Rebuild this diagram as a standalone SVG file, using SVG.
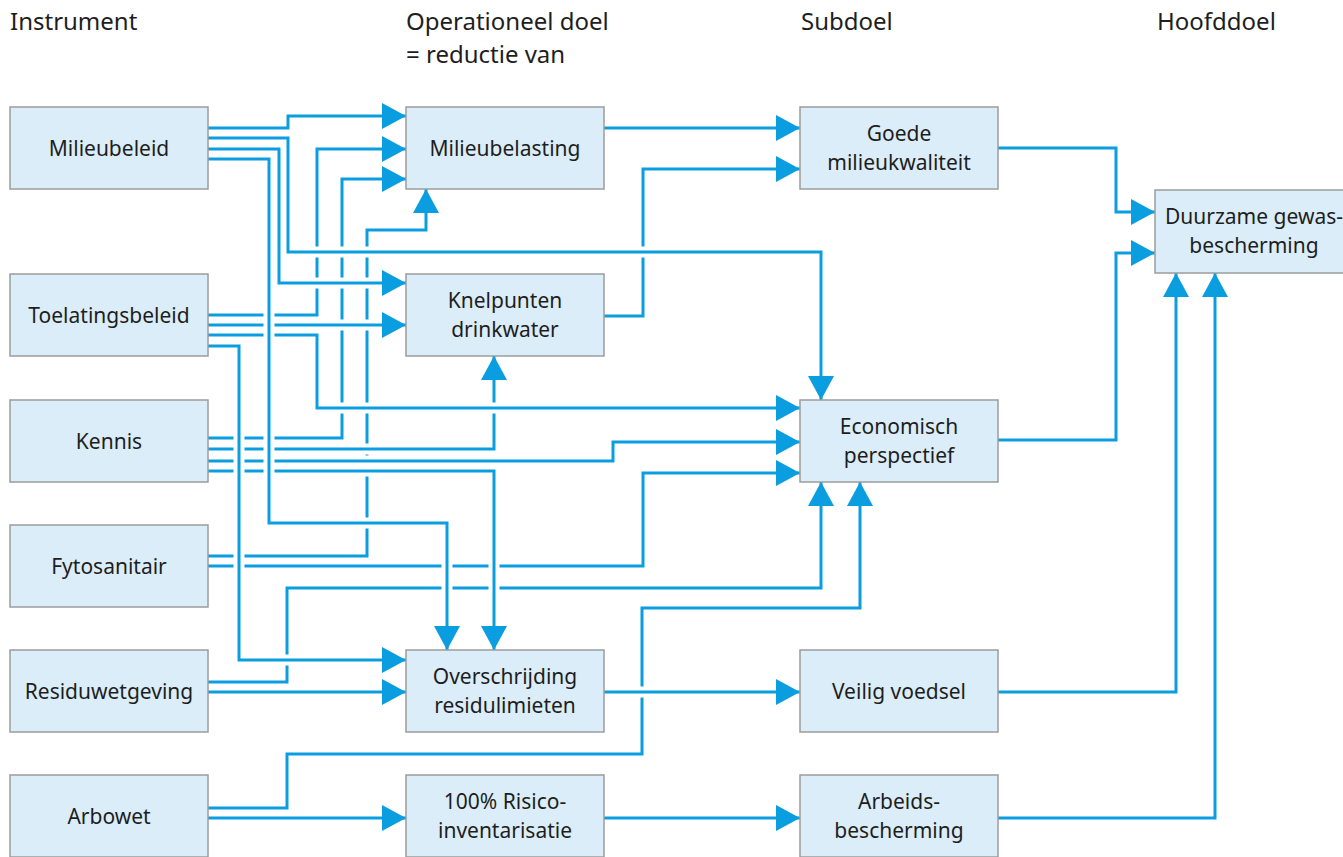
<svg xmlns="http://www.w3.org/2000/svg" width="1343" height="857" viewBox="0 0 1343 857">
<style>
.box{fill:#dbedf9;stroke:#9c9c9c;stroke-width:1.5}
.t{font-family:"Noto Sans","Open Sans",sans-serif;font-size:21px;fill:#1e1e1e;text-anchor:middle}
.h{font-family:"Noto Sans","Open Sans",sans-serif;font-size:24px;fill:#1e1e1e}
.halo{fill:none;stroke:#ffffff;stroke-width:11;stroke-linejoin:miter}
.ln{fill:none;stroke:#0a9de0;stroke-width:3;stroke-linejoin:miter;marker-end:url(#ah)}
</style>
<defs>
<marker id="ah" markerUnits="userSpaceOnUse" markerWidth="24" markerHeight="26" refX="24" refY="13" orient="auto" viewBox="0 0 24 26">
<path d="M0,0 L24,13 L0,26 Z" fill="#0a9de0"/>
</marker>
</defs>
<g id="headers">
<text class="h" x="10" y="30">Instrument</text>
<text class="h" x="406" y="30">Operationeel doel</text>
<text class="h" x="406" y="63">= reductie van</text>
<text class="h" x="801" y="30">Subdoel</text>
<text class="h" x="1157" y="30">Hoofddoel</text>
</g>
<g id="connectors">
<path class="halo" d="M208,556 H367 V230 H426 V189"/><path class="ln" d="M208,556 H367 V230 H426 V189"/>
<path class="halo" d="M208,566 H643 V473 H800"/><path class="ln" d="M208,566 H643 V473 H800"/>
<path class="halo" d="M208,682 H287 V588 H821 V482"/><path class="ln" d="M208,682 H287 V588 H821 V482"/>
<path class="halo" d="M208,808 H287 V754 H642 V608 H860 V482"/><path class="ln" d="M208,808 H287 V754 H642 V608 H860 V482"/>
<path class="halo" d="M604,316 H643 V169 H800"/><path class="ln" d="M604,316 H643 V169 H800"/>
<path class="halo" d="M208,438 H342 V179 H406"/><path class="ln" d="M208,438 H342 V179 H406"/>
<path class="halo" d="M208,449 H494 V356"/><path class="ln" d="M208,449 H494 V356"/>
<path class="halo" d="M208,461 H613 V442 H800"/><path class="ln" d="M208,461 H613 V442 H800"/>
<path class="halo" d="M208,471 H494 V650"/><path class="ln" d="M208,471 H494 V650"/>
<path class="halo" d="M208,315 H317 V149 H406"/><path class="ln" d="M208,315 H317 V149 H406"/>
<path class="halo" d="M208,325 H406"/><path class="ln" d="M208,325 H406"/>
<path class="halo" d="M208,335 H317 V408 H800"/><path class="ln" d="M208,335 H317 V408 H800"/>
<path class="halo" d="M208,149 H279 V283 H406"/><path class="ln" d="M208,149 H279 V283 H406"/>
<path class="halo" d="M208,138 H288 V252 H821 V400"/><path class="ln" d="M208,138 H288 V252 H821 V400"/>
<path class="halo" d="M208,346 H239 V660 H406"/><path class="ln" d="M208,346 H239 V660 H406"/>
<path class="halo" d="M208,159 H269 V523 H447 V650"/><path class="ln" d="M208,159 H269 V523 H447 V650"/>
<path class="halo" d="M604,692 H800"/><path class="ln" d="M604,692 H800"/>
<path class="ln" d="M208,128 H288 V116 H406"/>
<path class="ln" d="M208,692 H406"/>
<path class="ln" d="M208,818 H406"/>
<path class="ln" d="M604,128 H800"/>
<path class="ln" d="M604,818 H800"/>
<path class="ln" d="M998,148 H1116 V212 H1155"/>
<path class="halo" d="M998,440 H1116 V253 H1155"/><path class="ln" d="M998,440 H1116 V253 H1155"/>
<path class="ln" d="M998,692 H1176 V273"/>
<path class="ln" d="M998,818 H1215 V273"/>
</g>
<g id="n-milieubeleid"><rect class="box" x="10" y="107" width="198" height="82"/><text class="t" x="109" y="155.5">Milieubeleid</text></g>
<g id="n-toelatingsbeleid"><rect class="box" x="10" y="274" width="198" height="82"/><text class="t" x="109" y="322.5">Toelatingsbeleid</text></g>
<g id="n-kennis"><rect class="box" x="10" y="400" width="198" height="82"/><text class="t" x="109" y="448.5">Kennis</text></g>
<g id="n-fytosanitair"><rect class="box" x="10" y="525" width="198" height="82"/><text class="t" x="109" y="573.5">Fytosanitair</text></g>
<g id="n-residuwetgeving"><rect class="box" x="10" y="650" width="198" height="82"/><text class="t" x="109" y="698.5">Residuwetgeving</text></g>
<g id="n-arbowet"><rect class="box" x="10" y="775" width="198" height="82"/><text class="t" x="109" y="823.5">Arbowet</text></g>
<g id="n-milieubelasting"><rect class="box" x="406" y="107" width="198" height="82"/><text class="t" x="505" y="155.5">Milieubelasting</text></g>
<g id="n-knelpunten"><rect class="box" x="406" y="274" width="198" height="82"/><text class="t" x="505" y="307.5">Knelpunten</text><text class="t" x="505" y="336.5">drinkwater</text></g>
<g id="n-overschrijding"><rect class="box" x="406" y="650" width="198" height="82"/><text class="t" x="505" y="683.5">Overschrijding</text><text class="t" x="505" y="712.5">residulimieten</text></g>
<g id="n-risico"><rect class="box" x="406" y="775" width="198" height="82"/><text class="t" x="505" y="808.5">100% Risico-</text><text class="t" x="505" y="837.5">inventarisatie</text></g>
<g id="n-goede"><rect class="box" x="800" y="107" width="198" height="82"/><text class="t" x="899" y="140.5">Goede</text><text class="t" x="899" y="169.5">milieukwaliteit</text></g>
<g id="n-economisch"><rect class="box" x="800" y="400" width="198" height="82"/><text class="t" x="899" y="433.5">Economisch</text><text class="t" x="899" y="462.5">perspectief</text></g>
<g id="n-veilig"><rect class="box" x="800" y="650" width="198" height="82"/><text class="t" x="899" y="698.5">Veilig voedsel</text></g>
<g id="n-arbeids"><rect class="box" x="800" y="775" width="198" height="82"/><text class="t" x="899" y="808.5">Arbeids-</text><text class="t" x="899" y="837.5">bescherming</text></g>
<g id="n-duurzame"><rect class="box" x="1155" y="190" width="198" height="83"/><text class="t" x="1254" y="224">Duurzame gewas-</text><text class="t" x="1254" y="253">bescherming</text></g>
</svg>
